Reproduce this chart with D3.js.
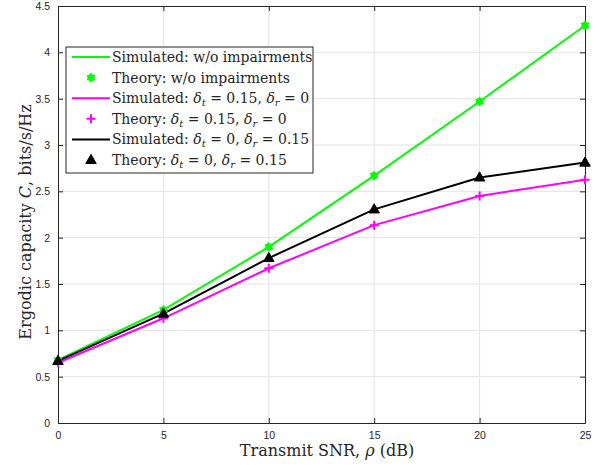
<!DOCTYPE html>
<html><head><meta charset="utf-8">
<script src="https://cdn.jsdelivr.net/npm/d3@7"></script>
<style>body{margin:0;background:#fff}</style>
</head><body>
<svg id="c" width="602" height="466"></svg>
<script>
const snr = [0, 5, 10, 15, 20, 25];
const simNoImp = [0.68, 1.22, 1.90, 2.67, 3.47, 4.29];
const thNoImp = [0.68, 1.22, 1.90, 2.67, 3.47, 4.29];
const simTx = [0.65, 1.13, 1.67, 2.135, 2.45, 2.625];
const thTx = [0.65, 1.13, 1.67, 2.135, 2.45, 2.625];
const simRx = [0.67, 1.18, 1.78, 2.305, 2.65, 2.81];
const thRx = [0.67, 1.18, 1.78, 2.305, 2.65, 2.81];
const xTicks = [0, 5, 10, 15, 20, 25];
const yTicks = [0, 0.5, 1, 1.5, 2, 2.5, 3, 3.5, 4, 4.5];

const svg = d3.select("#c");
const L = 58, R = 585, T = 6, B = 423;
const x = d3.scaleLinear().domain([0, 25]).range([L, R]);
const y = d3.scaleLinear().domain([0, 4.5]).range([B, T]);
const axCol = "#262626";

// grid
svg.append("g").selectAll("line").data(xTicks.slice(1, -1)).join("line")
  .attr("x1", d => x(d)).attr("x2", d => x(d)).attr("y1", T).attr("y2", B)
  .attr("stroke", "#e3e3e3").attr("stroke-width", 1);
svg.append("g").selectAll("line").data(yTicks.slice(1, -1)).join("line")
  .attr("y1", d => y(d)).attr("y2", d => y(d)).attr("x1", L).attr("x2", R)
  .attr("stroke", "#e3e3e3").attr("stroke-width", 1);

// axes
const xa = svg.append("g").attr("transform", `translate(0,${B})`)
  .call(d3.axisBottom(x).tickValues(xTicks).tickSize(-5).tickPadding(9).tickFormat(d3.format("")));
const xt = svg.append("g").attr("transform", `translate(0,${T})`)
  .call(d3.axisTop(x).tickValues(xTicks).tickSize(-5).tickFormat(""));
const ya = svg.append("g").attr("transform", `translate(${L},0)`)
  .call(d3.axisLeft(y).tickValues(yTicks).tickSize(-5).tickPadding(8).tickFormat(d3.format("")));
const yr = svg.append("g").attr("transform", `translate(${R},0)`)
  .call(d3.axisRight(y).tickValues(yTicks).tickSize(-5).tickFormat(""));
[xa, xt, ya, yr].forEach(g => {
  g.selectAll("path,line").attr("stroke", axCol).attr("stroke-width", 1);
  g.selectAll("text").attr("fill", axCol).style("font-family", "Liberation Sans, Arial, sans-serif").style("font-size", "10.5px");
});

// series
const series = [
  {sim: simNoImp, th: thNoImp, color: "#00ff00", marker: "dot"},
  {sim: simTx, th: thTx, color: "#ff00ff", marker: "plus"},
  {sim: simRx, th: thRx, color: "#000000", marker: "tri"}
];
const line = d3.line().x((d, i) => x(snr[i])).y(d => y(d));
function drawMarker(g, mk, color, cx, cy) {
  if (mk === "dot") {
    g.append("circle").attr("cx", cx).attr("cy", cy).attr("r", 3.6).attr("fill", color);
    g.append("path").attr("d", d3.symbol(d3.symbolAsterisk, 60)()).attr("transform", `translate(${cx},${cy})`)
      .attr("stroke", color).attr("stroke-width", 1.5).attr("fill", "none");
  } else if (mk === "plus") {
    g.append("path").attr("d", `M${cx-4.5},${cy}H${cx+4.5}M${cx},${cy-4.5}V${cy+4.5}`)
      .attr("stroke", color).attr("stroke-width", 2);
  } else {
    g.append("path").attr("d", d3.symbol(d3.symbolTriangle, 48)()).attr("transform", `translate(${cx},${cy + 0.5})`)
      .attr("fill", color).attr("stroke", color).attr("stroke-width", 1);
  }
}
series.forEach(s => {
  svg.append("path").datum(s.sim).attr("d", line).attr("fill", "none")
    .attr("stroke", s.color).attr("stroke-width", 2);
});
series.forEach(s => {
  const g = svg.append("g");
  s.th.forEach((v, i) => drawMarker(g, s.marker, s.color, x(snr[i]), y(v)));
});

// axis labels
const serif = "DejaVu Serif, serif";
svg.append("text").attr("x", 327).attr("y", 456).attr("text-anchor", "middle")
  .style("font-family", serif).style("font-size", "16px").attr("fill", axCol)
  .html('Transmit SNR, <tspan font-style="italic">ρ</tspan> (dB)');
svg.append("text").attr("transform", `translate(31,222) rotate(-90)`).attr("text-anchor", "middle")
  .style("font-family", serif).style("font-size", "16px").attr("fill", axCol)
  .html('Ergodic capacity <tspan font-style="italic">C</tspan>, bits/s/Hz');

// legend
const lg = svg.append("g");
lg.append("rect").attr("x", 66).attr("y", 47).attr("width", 247).attr("height", 126)
  .attr("fill", "#fff").attr("stroke", axCol).attr("stroke-width", 1);
const sub = (s) => `<tspan font-style="italic">δ</tspan><tspan font-style="italic" font-size="10px" dy="3">${s}</tspan>`;
const legendItems = [
  {type: "line", color: "#00ff00", html: "Simulated: w/o impairments"},
  {type: "dot", color: "#00ff00", html: "Theory: w/o impairments"},
  {type: "line", color: "#ff00ff", html: `Simulated: ${sub("t")}<tspan dy="-3"> = 0.15, </tspan>${sub("r")}<tspan dy="-3"> = 0</tspan>`},
  {type: "plus", color: "#ff00ff", html: `Theory: ${sub("t")}<tspan dy="-3"> = 0.15, </tspan>${sub("r")}<tspan dy="-3"> = 0</tspan>`},
  {type: "line", color: "#000000", html: `Simulated: ${sub("t")}<tspan dy="-3"> = 0, </tspan>${sub("r")}<tspan dy="-3"> = 0.15</tspan>`},
  {type: "tri", color: "#000000", html: `Theory: ${sub("t")}<tspan dy="-3"> = 0, </tspan>${sub("r")}<tspan dy="-3"> = 0.15</tspan>`}
];
legendItems.forEach((it, i) => {
  const cy = 57 + i * 20.6;
  if (it.type === "line") {
    lg.append("line").attr("x1", 72).attr("x2", 110).attr("y1", cy).attr("y2", cy)
      .attr("stroke", it.color).attr("stroke-width", 2);
  } else {
    drawMarker(lg, it.type, it.color, 91, cy);
  }
  lg.append("text").attr("x", 112).attr("y", cy + 5).style("font-family", serif)
    .style("font-size", "14px").attr("fill", axCol).html(it.html);
});
</script>
</body></html>
